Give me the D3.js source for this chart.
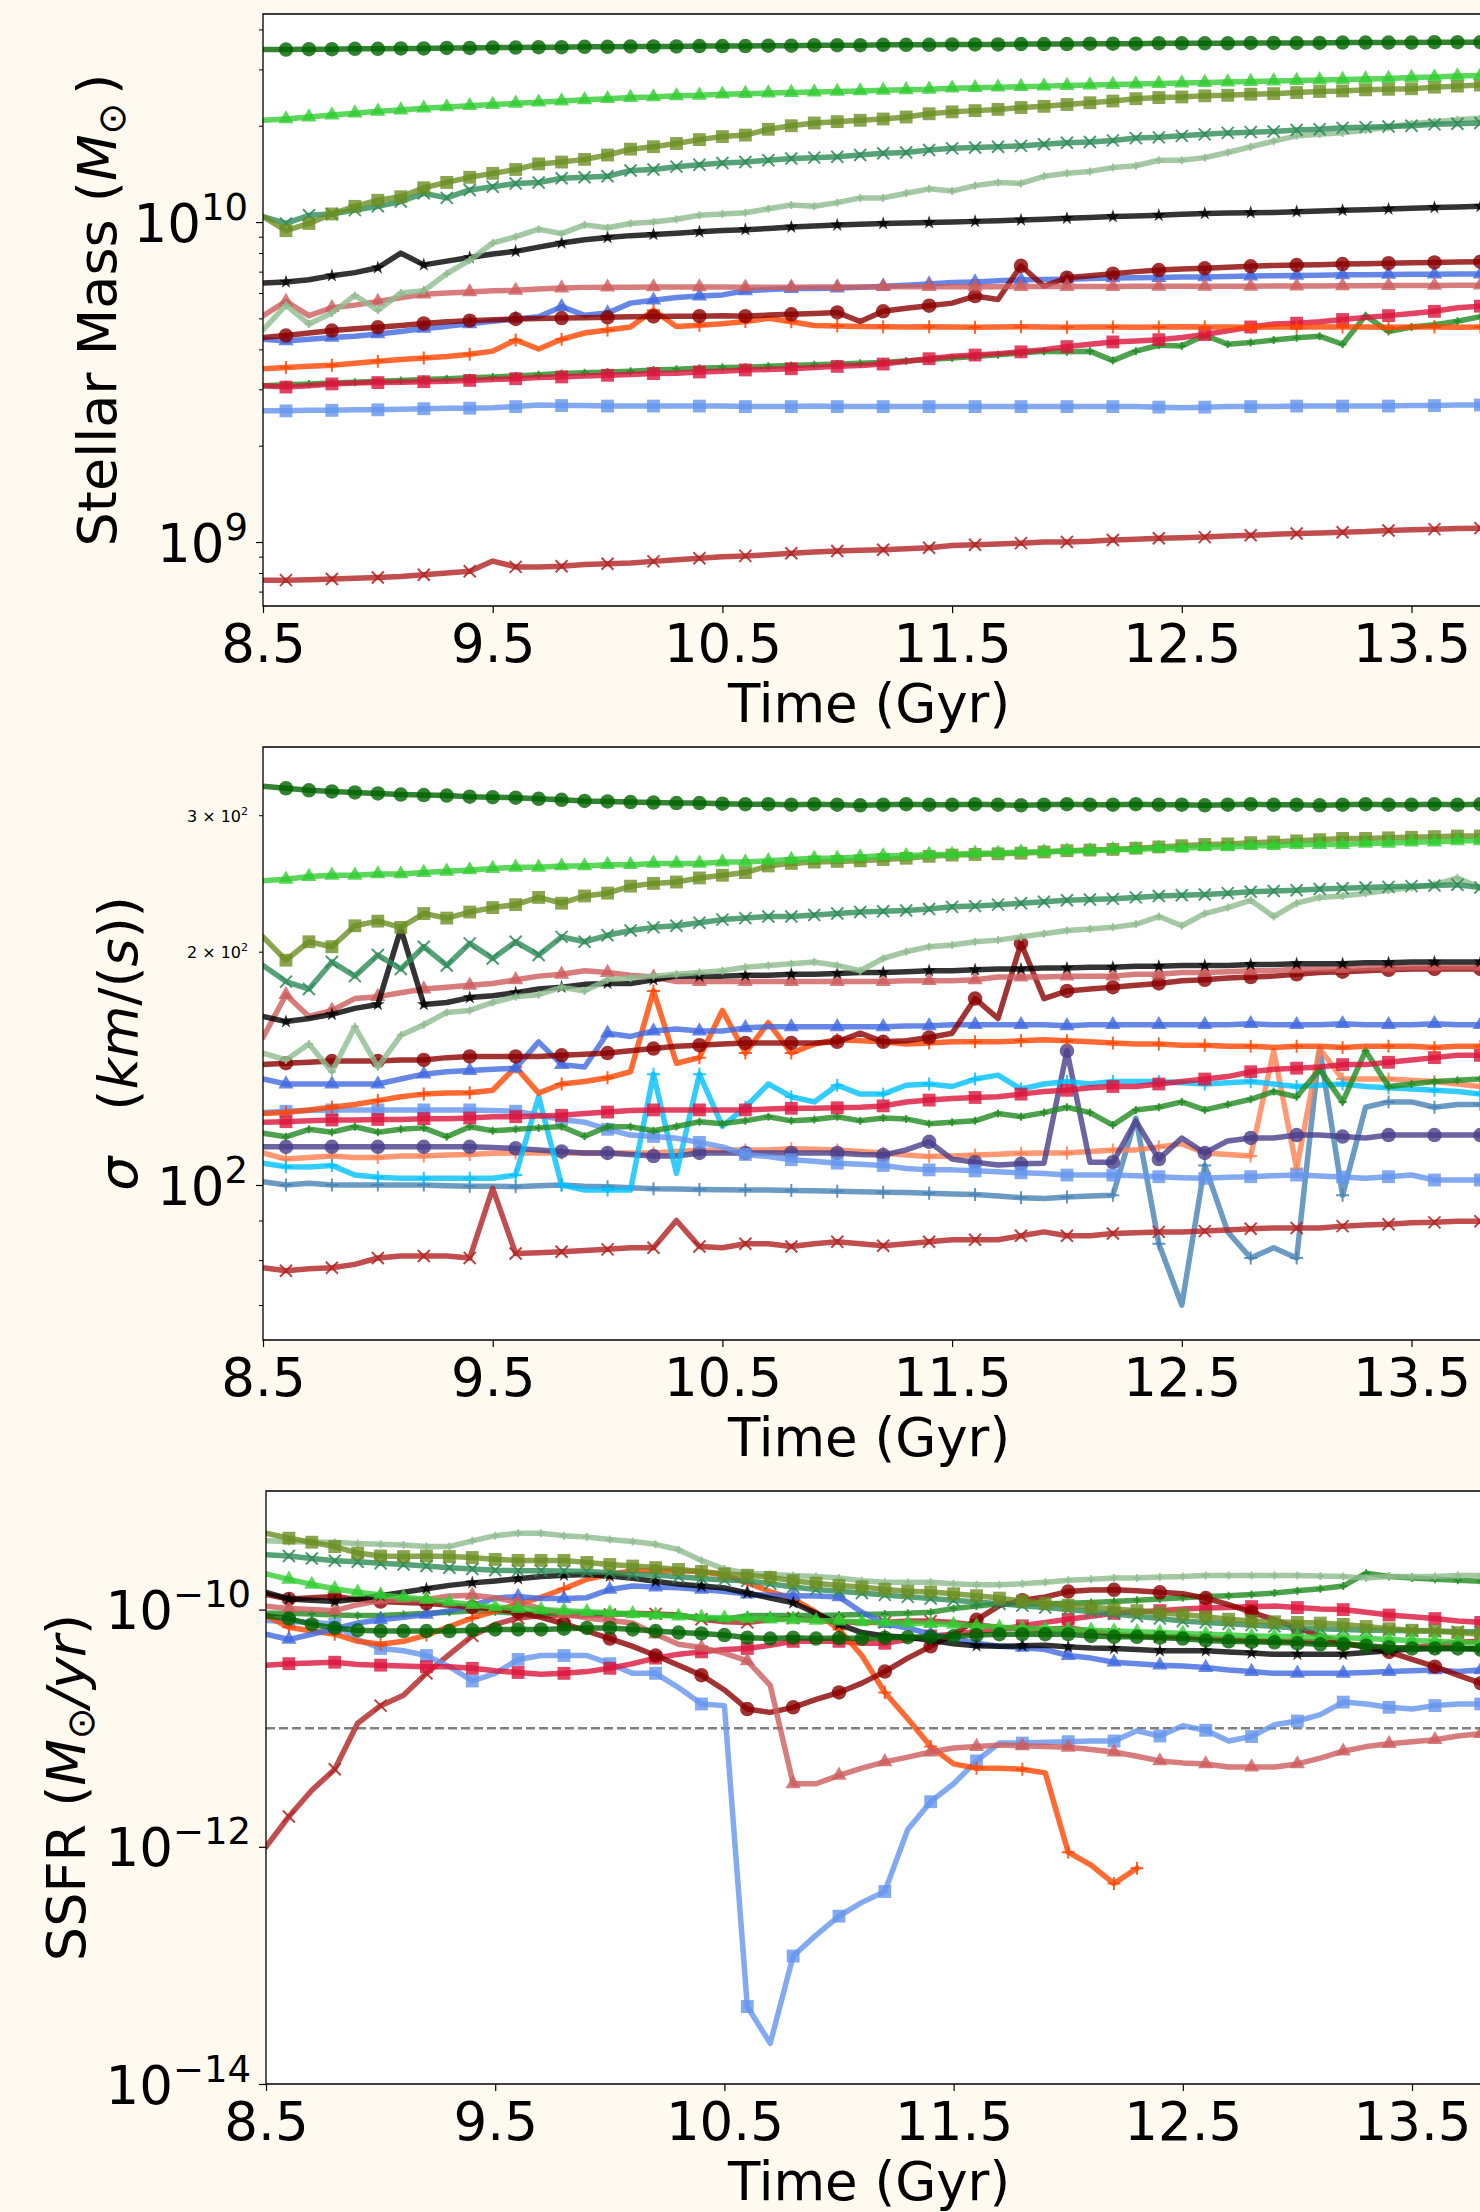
<!DOCTYPE html>
<html>
<head>
<meta charset="utf-8">
<script src="https://cdn.jsdelivr.net/npm/d3@7"></script>
<style>
  body { margin: 0; background: #fffaf0; }
</style>
</head>
<body>
<div id="chart"></div>
<script>
// Mass, velocity dispersion and sSFR histories of the sample galaxies
const times = [
  8.5, 8.6, 8.7, 8.8, 8.9, 9.0, 9.1, 9.2, 9.3, 9.4,
  9.5, 9.6, 9.7, 9.8, 9.9, 10.0, 10.1, 10.2, 10.3, 10.4,
  10.5, 10.6, 10.7, 10.8, 10.9, 11.0, 11.1, 11.2, 11.3, 11.4,
  11.5, 11.6, 11.7, 11.8, 11.9, 12.0, 12.1, 12.2, 12.3, 12.4,
  12.5, 12.6, 12.7, 12.8, 12.9, 13.0, 13.1, 13.2, 13.3, 13.4,
  13.5, 13.6, 13.7, 13.8
];
const xTicks = [8.5, 9.5, 10.5, 11.5, 12.5, 13.5];

// stellar mass, units of 1e9 Msun
const massDarkgreen = [
  34.6,34.6,34.7,34.7,34.8,34.8,34.9,34.9,35.0,35.0,
  35.1,35.1,35.2,35.2,35.3,35.3,35.4,35.4,35.4,35.5,
  35.5,35.5,35.6,35.6,35.7,35.7,35.7,35.8,35.8,35.8,
  35.9,35.9,35.9,36.0,36.0,36.0,36.1,36.1,36.1,36.2,
  36.2,36.2,36.2,36.3,36.3,36.3,36.3,36.4,36.4,36.4,
  36.4,36.5,36.5,36.5];
const massLime = [
  20.8,21.0,21.3,21.6,21.9,22.2,22.4,22.7,22.9,23.1,
  23.3,23.5,23.7,23.9,24.1,24.3,24.5,24.6,24.8,24.9,
  25.1,25.2,25.3,25.4,25.5,25.6,25.7,25.8,25.9,26.0,
  26.2,26.3,26.4,26.5,26.6,26.7,26.8,26.9,27.0,27.1,
  27.2,27.3,27.4,27.5,27.6,27.7,27.8,27.9,28.0,28.1,
  28.3,28.4,28.6,28.7];
const massOlive = [
  10.4,9.4,9.9,10.6,11.2,11.7,12.0,12.8,13.3,13.8,
  14.2,14.6,15.2,15.4,15.7,16.2,16.9,17.2,17.6,18.1,
  18.5,18.7,19.5,20.0,20.4,20.6,20.8,21.0,21.3,21.8,
  22.1,22.3,22.5,22.8,23.0,23.3,23.6,23.9,24.3,24.5,
  24.6,24.8,24.9,25.1,25.2,25.4,25.6,25.7,25.9,26.0,
  26.1,26.4,26.6,26.8];
const massSeagreen = [
  10.4,9.9,10.5,10.6,10.9,11.2,11.6,12.3,11.9,12.6,
  12.9,13.2,13.3,13.7,13.8,13.9,14.5,14.6,14.9,15.1,
  15.3,15.4,15.6,15.8,15.9,16.0,16.2,16.4,16.5,16.8,
  17.0,17.1,17.2,17.3,17.5,17.7,17.8,18.0,18.3,18.4,
  18.6,18.8,19.0,19.1,19.2,19.4,19.5,19.7,19.8,19.9,
  20.0,20.2,20.3,20.4];
const massPalegreen = [
  4.6,5.5,4.8,5.2,5.9,5.3,6.0,6.1,6.9,7.6,
  8.6,9.0,9.5,9.2,9.8,9.6,9.9,10.0,10.2,10.5,
  10.6,10.7,11.0,11.3,11.2,11.5,11.9,11.9,12.3,12.7,
  12.5,13.0,13.3,13.2,13.9,14.2,14.4,14.8,15.0,15.6,
  15.6,15.9,16.5,17.2,17.9,18.6,18.8,19.0,19.4,19.8,
  20.3,20.6,20.9,21.1];
const massBlack = [
  6.45,6.5,6.6,6.8,6.95,7.2,8.0,7.35,7.55,7.75,
  7.95,8.1,8.35,8.6,8.8,8.95,9.07,9.15,9.22,9.32,
  9.41,9.47,9.55,9.65,9.72,9.79,9.85,9.9,9.93,9.96,
  10.0,10.05,10.1,10.15,10.2,10.28,10.33,10.4,10.45,10.5,
  10.57,10.63,10.68,10.7,10.72,10.78,10.82,10.88,10.93,10.98,
  11.05,11.1,11.15,11.2];
const massIndianred = [
  5.1,5.65,5.1,5.4,5.5,5.65,5.8,5.95,6.0,6.05,
  6.1,6.12,6.18,6.22,6.25,6.26,6.26,6.27,6.27,6.27,
  6.27,6.26,6.26,6.26,6.27,6.27,6.27,6.28,6.28,6.28,
  6.28,6.28,6.28,6.29,6.29,6.29,6.29,6.29,6.3,6.3,
  6.3,6.3,6.3,6.3,6.31,6.31,6.31,6.32,6.32,6.33,
  6.33,6.34,6.35,6.35];
const massRoyalblue = [
  4.3,4.25,4.3,4.36,4.4,4.47,4.55,4.65,4.72,4.81,
  4.9,4.98,5.06,5.44,5.11,5.2,5.58,5.7,5.81,5.87,
  5.92,6.1,6.15,6.2,6.2,6.22,6.25,6.3,6.35,6.4,
  6.47,6.5,6.55,6.6,6.62,6.63,6.66,6.69,6.7,6.71,
  6.73,6.74,6.76,6.78,6.8,6.81,6.82,6.84,6.85,6.86,
  6.87,6.87,6.88,6.88];
const massDarkred = [
  4.36,4.42,4.5,4.58,4.64,4.69,4.75,4.82,4.88,4.92,
  4.95,4.98,5.0,5.01,5.02,5.04,5.06,5.07,5.08,5.08,
  5.1,5.08,5.12,5.15,5.18,5.22,4.89,5.26,5.38,5.48,
  5.58,5.87,5.73,7.3,6.3,6.7,6.8,6.9,7.0,7.08,
  7.13,7.17,7.22,7.27,7.32,7.34,7.36,7.39,7.41,7.44,
  7.46,7.48,7.5,7.52];
const massOrangered = [
  3.48,3.51,3.54,3.57,3.62,3.67,3.72,3.76,3.8,3.86,
  3.95,4.28,4.01,4.3,4.5,4.6,4.7,5.3,4.72,4.76,
  4.81,4.89,5.0,4.88,4.75,4.73,4.72,4.71,4.7,4.71,
  4.7,4.69,4.7,4.71,4.7,4.69,4.7,4.7,4.69,4.7,
  4.71,4.7,4.7,4.69,4.7,4.7,4.71,4.7,4.7,4.69,
  4.7,4.7,4.69,4.7];
const massCrimson = [
  3.08,3.05,3.08,3.12,3.14,3.15,3.16,3.17,3.18,3.2,
  3.22,3.24,3.27,3.28,3.3,3.32,3.34,3.36,3.37,3.4,
  3.42,3.45,3.46,3.48,3.51,3.54,3.56,3.6,3.67,3.74,
  3.81,3.84,3.88,3.93,3.99,4.08,4.15,4.22,4.25,4.29,
  4.36,4.45,4.57,4.7,4.8,4.83,4.88,4.96,5.03,5.1,
  5.18,5.26,5.4,5.46];
const massGreen = [
  3.08,3.1,3.12,3.14,3.16,3.18,3.2,3.22,3.24,3.26,
  3.28,3.3,3.33,3.36,3.38,3.4,3.42,3.45,3.47,3.49,
  3.51,3.52,3.54,3.56,3.58,3.6,3.62,3.64,3.68,3.72,
  3.76,3.8,3.85,3.9,3.95,3.93,3.95,3.69,3.95,4.12,
  4.1,4.43,4.15,4.2,4.28,4.35,4.4,4.15,5.1,4.55,
  4.7,4.78,4.9,5.06];
const massCornflower = [
  2.57,2.57,2.58,2.58,2.59,2.59,2.6,2.61,2.62,2.62,
  2.63,2.65,2.68,2.67,2.67,2.66,2.66,2.66,2.66,2.66,
  2.66,2.65,2.65,2.65,2.66,2.65,2.65,2.65,2.65,2.65,
  2.65,2.65,2.65,2.65,2.65,2.65,2.65,2.65,2.65,2.64,
  2.63,2.64,2.65,2.65,2.65,2.66,2.66,2.66,2.66,2.66,
  2.67,2.67,2.68,2.68];
const massBrown = [
  0.76,0.76,0.762,0.766,0.77,0.775,0.78,0.79,0.8,0.81,
  0.872,0.836,0.836,0.84,0.85,0.855,0.86,0.87,0.88,0.89,
  0.9,0.905,0.912,0.922,0.93,0.937,0.942,0.946,0.953,0.96,
  0.975,0.98,0.985,0.992,1.0,1.0,1.005,1.015,1.02,1.027,
  1.032,1.036,1.044,1.05,1.057,1.063,1.068,1.073,1.078,1.087,
  1.092,1.097,1.103,1.105];

// velocity dispersion, km/s
const sigmaDarkgreen = [
  327,325,323,322,321,320,319,318.5,318,317,
  316.5,316,315,314,313,312.5,312,311.5,311,311,
  310.5,310,310,309.5,310,309.5,309,309.5,310,309.5,
  309.5,310,309.5,309,309.5,310,309.5,309.5,310,309.5,
  309.5,309,309.5,310,309.5,309.5,309,309.5,310,309.5,
  309.5,310,309.5,310];
const sigmaLime = [
  247,248,250,251,251,252,252,253,254,255,
  256,257,257,258,258,259,259,260,260,260,
  261,261,262,263,264,264,265,266,266,267,
  267,268,268,269,269,270,270,271,271,272,
  272,273,273,274,274,275,275,275,276,276,
  277,277,278,278];
const sigmaOlive = [
  209,195,206,203,216,219,215,224,221,225,
  228,230,235,231,236,238,243,245,246,249,
  251,253,258,260,261,261.5,262,263,264,265.5,
  266.5,267,267.5,268,269,270,270.5,271,272,273,
  274,275,275.5,276.5,277,278,279,280,280,280.5,
  281,281.5,282,282];
const sigmaSeagreen = [
  192,183,179,194,186,198,190,203,192,205,
  196,206,198,209,206,210,213,215,216,218,
  220,221,222,222,223,224,225,225.5,226,227,
  228.5,229,230,231,232,233,233.5,234,235,236,
  236.5,237,238,239,239.5,240,241,241.5,242,242.5,
  243,243.5,244,242];
const sigmaPalegreen = [
  148,145,152,140,160,142,156,161,167,168,
  172,175,176,180,178,184,185,186,187,188,
  189,191,192,193,194,192,189,196,200,203,
  204,206,207,209,211,213,214,215,217,222,
  216,224,228,233,222,231,235,236,238,240,
  242,244,249,242];
const sigmaBlack = [
  165,162.5,164,166,169,171,214,171,172,174.5,
  175.5,177,179,180,181.5,182,182,184,186,186,
  186,186.5,186.5,187,187,187.5,188,188,188.5,189,
  189,189.5,190,190,190.5,190.5,191,191,191.5,191.5,
  192,192,192,192.5,192.5,193,193,193,193.5,193.5,
  194,194,194,194];
const sigmaIndianred = [
  155,176,165,168,174,175,177,179,180,181,
  182,184,186,187,189,188,186.5,185.5,183,183,
  183,183,183,183,183,183,183,183,183.5,183.5,
  183.5,184,185.5,185.5,185.5,186,186,186,187,187,
  188,188,188.5,189,189,190,190,190,190.5,190.5,
  191,191,191,191];
const sigmaRoyalblue = [
  137,135,135,135,135,135,137,139,140,140.5,
  141,141.5,153,143,142,157,155.5,158,159,158,
  158,159.5,160,160,160,160,160,160,160.4,160.5,
  161,161,161,161,161,160.5,161,161,161,161,
  161,161,161,161.5,161,161,161,161.5,161,161,
  161,161.5,161,161];
const sigmaDarkred = [
  143,143.6,144,144.5,144.5,144.5,145,145,146,146.5,
  146.5,146.5,146.5,147,147.5,148,149,150,151,151.5,
  152,152.5,152.5,152.5,152.5,153,157,153,153.5,155,
  157,174,164,205,174,178,179,180,181,182,
  183.5,184,185,185.5,186,187,188,188.5,189,189.5,
  190,190,190,190];
const sigmaOrangered = [
  123.7,124,125,126,127,128.5,130,131,131.4,131.5,
  132.5,142,131.4,135,136,137.5,140,178,143.6,146,
  168,148,162,148,152,154,153.5,153,152,152.5,
  153,153,153,153.5,154,153.5,153,152.5,152,152,
  151.5,151.5,151,151,150.5,151,151,150.5,151,151,
  151,150.5,151,151];
const sigmaCrimson = [
  120.5,120.7,121,121.3,121.3,121.5,121.5,121.8,121.8,122,
  122.5,122.5,122.8,123,123.7,124.2,124.8,125,125,125,
  125,125,125.3,125.6,125.6,125.8,126,126.5,128,128.7,
  129.3,129.7,130,131,132,132.5,133.5,134,134,135,
  136,137,138,140,141,141.5,142,143,143,144,
  145,146,147,147];
const sigmaGreen = [
  116.6,115.4,118,117,118.9,117,118,118.5,115.4,118.9,
  117.5,118,118.5,119,115.6,118.9,118.9,117.5,119,120.7,
  120,121,122.5,121,121.5,122.5,121,122,121.7,120,
  120.5,121,123.7,122.5,124,126,124,119.5,125,126,
  128,125,127,129,132,130,141,128,149,134,
  135,136,136.5,137];
const sigmaCornflower = [
  124,124.5,124.8,125,125,125,125,125,125,125,
  124.8,124.5,123,121.5,120.5,118,116,115.5,114.9,113.5,
  112,109.5,108.8,107.8,107.3,106.7,106.4,106,105,104.6,
  104.6,104.3,104,103.7,103.5,103,103,103,102.8,102.5,
  102.2,102,102.3,102.5,102.8,103,102.7,102.4,102,102.5,
  103,101.5,101.5,101.5];
const sigmaBrown = [
  78.2,77.5,78,78.2,79,80.5,81,81,81,80.5,
  99,81.6,81.8,82,82.3,82.6,83,83,90,83.3,
  83,84,84,83.3,84,84.5,84,83.5,84,84.5,
  85,85,85,86,87,86,86,86.6,86.8,87,
  87,87.2,87.5,87.8,88,88,88,88.5,88.8,89,
  89.4,89.5,89.8,89.8];
const sigmaDeepskyblue = [
  106.7,105.6,105.5,106,103,102.3,102,102,102,102,
  102,103,130,100,98.5,98.5,98.5,139,103.5,139,
  119,126,135,130,128,134.5,131,131,134.5,135,
  134,137,138.6,133,135,136,135,136,136,136,
  135.5,135,135.5,136,135,134,134.5,135,134,133.5,
  133,132.5,132,131];
const sigmaDarkslateblue = [
  112,112,112,112,112,112,112,112,112,112,
  111.8,111.5,111,110.5,110,110,109.5,109,109,110,
  110,110,110,110,110,110,109.5,109.3,111,113.7,
  108,107,106.1,106.5,106.7,149,107,107,121,108,
  115,110,114,115,115,116,116,115.5,115,116,
  116,116,116,116];
const sigmaCoral = [
  110,108,108.5,109,108.5,108.5,109,109,109.3,109.5,
  109.9,110,110,110,110,110,110,110,110.5,110.9,
  111,111,111,111.4,111.2,111,110.5,110,109.3,108.8,
  109,109.3,109.6,109.9,110,110,110.5,111,111,112,
  113,110,109.5,109,149,105,150,137,137,137,
  136.5,136,135,134];
const sigmaSteelblue = [
  101,100,100.5,100,100,100,100,100,99.8,99.6,
  99.6,99.5,99.8,100,99.6,99.5,99.2,98.9,98.8,98.7,
  98.6,98.5,98.5,98.4,98.3,98.2,98.0,97.9,97.8,97.6,
  97.4,97.2,96.8,96.3,96.1,96.5,96.8,97,122,84,
  70,106,87,80.5,83,80.5,150,97,126,128,
  128,126,127,127];

// specific star formation rate, units of 1e-11 / yr
const ssfrDarkgreen = [
  8.9,8.4,7.5,7.0,6.7,6.6,6.6,6.6,6.6,6.7,
  6.8,6.8,6.8,6.9,7.0,7.0,6.8,6.6,6.4,6.3,
  6.1,5.8,5.7,5.8,5.7,5.75,5.7,5.8,5.85,5.9,
  5.95,6.1,6.2,6.2,6.2,6.2,6.0,5.9,5.9,5.8,
  5.7,5.5,5.4,5.35,5.3,5.2,5.1,5.1,4.95,4.8,
  4.7,4.7,4.7,4.6];
const ssfrLime = [
  20,18,16.3,15,14,13.3,12.7,12.2,11.6,11,
  10.5,10.2,10,9.8,9.6,9.4,9.2,9.0,8.8,8.6,
  8.5,8.4,8.3,8.2,8.1,8.0,7.9,7.8,7.7,7.6,
  7.5,7.3,7.1,7.0,6.9,6.8,6.7,6.6,6.5,6.4,
  6.3,6.2,6.1,6.0,5.95,5.9,5.85,5.8,5.7,5.6,
  5.5,5.4,5.3,5.2];
const ssfrOlive = [
  44,40,37,34,30,28.3,28,28.3,28,27.5,
  26.5,26,26,26,25,24,23.3,22.6,21.8,21,
  20,19.5,18.7,17.5,16.7,16,15.5,14.8,14.3,14.1,
  13.6,13.1,12.5,11.8,11.3,10.9,10.5,10.1,9.8,9.4,
  9.1,8.7,8.3,8.0,7.9,7.8,7.7,7.5,7.2,6.9,
  6.7,6.6,6.4,6.2];
const ssfrSeagreen = [
  29,28.3,27,25.8,25.3,24.6,24,23.3,22.5,22,
  21.5,21.3,21.3,21.2,21,20.5,19.8,19.6,18.9,18.3,
  17.8,17.5,16.5,15.5,14.8,14.3,13.8,13.3,12.8,12.4,
  12,11.6,11.2,10.8,10.4,10,9.6,9.2,8.8,8.4,
  8.0,7.8,7.6,7.4,7.2,7.0,6.9,6.8,6.7,6.7,
  6.6,6.6,6.5,6.5];
const ssfrPalegreen = [
  38,37.5,37,37,36,35.5,35,34,34,38,
  42,44,44,42,41,39,37.5,35.5,32,26,
  22,20.3,19.8,19.4,19,18.5,17.5,17,17,17,
  16.5,16.2,16.2,16.5,17,17.7,18,18.5,18.5,18.8,
  19,19.4,19.4,19.4,19.4,19.4,19.2,19,18.5,19,
  19,19,19.4,19.4];
const ssfrBlack = [
  14,12.3,12,11.7,12.3,13.1,14,15,16,16.8,
  17.4,18.2,19,19.5,19.8,19.2,18.4,17.3,16.4,15.8,
  15.2,13.8,12.5,11.4,9.3,7.5,6.4,6.0,5.85,5.5,
  5.15,4.95,4.9,4.95,5.0,4.85,4.75,4.7,4.6,4.5,
  4.5,4.5,4.4,4.3,4.2,4.2,4.2,4.2,4.35,4.5,
  4.65,4.7,4.7,4.7];
const ssfrIndianred = [
  10.7,10.2,10,9.8,11,12,12,12.2,13,13.2,
  12.6,11.5,10.2,9.2,8.5,8.1,7.7,6.2,5.1,4.8,
  4.3,3.7,2.3,0.34,0.34,0.4,0.46,0.52,0.57,0.63,
  0.68,0.7,0.72,0.71,0.7,0.69,0.66,0.63,0.58,0.53,
  0.51,0.5,0.47,0.47,0.47,0.5,0.56,0.64,0.7,0.74,
  0.77,0.8,0.86,0.9];
const ssfrRoyalblue = [
  6.2,5.6,6.2,6.9,7.7,8.2,8.6,9.1,9.8,10.8,
  12.5,12.9,12.4,12.4,12.6,14.8,15.8,15.5,15.3,14.8,
  14.2,13.5,13.2,13.1,13,12.8,9.5,7.6,7.0,6.2,
  5.7,5.2,4.9,4.8,4.6,4.1,3.9,3.6,3.5,3.4,
  3.35,3.25,3.1,3.0,2.9,2.9,2.9,2.9,2.95,3.0,
  3.05,3.1,3.0,3.1];
const ssfrDarkred = [
  13.4,12.3,12.6,12.9,12.2,11.7,11.5,11.3,10.9,10.5,
  10.1,9.5,8.6,7.6,6.6,5.7,4.9,4.1,3.4,2.8,
  2.1,1.45,1.36,1.5,1.75,2.0,2.4,3.0,3.9,4.9,
  6.2,8.2,10.8,12,12.8,14.2,14.6,14.7,14.4,14,
  13.6,12.5,11,9.5,8.2,7.0,6.0,5.2,4.8,4.4,
  3.8,3.3,2.8,2.4];
const ssfrOrangered = [
  8.9,7.1,6.6,6.2,5.4,5.1,5.4,6.1,7.2,8.5,
  9.7,11.2,12.7,15,18,19.8,21.3,21.5,21.3,20.8,
  19.6,16.8,14.2,12.3,9.5,6.8,4.1,2.0,1.2,0.7,
  0.5,0.46,0.46,0.45,0.42,0.09,0.07,0.049,0.066,null,
  null,null,null,null,null,null,null,null,null,null,
  null,null,null,null];
const ssfrCrimson = [
  3.4,3.5,3.55,3.6,3.45,3.4,3.35,3.3,3.3,3.2,
  3.05,2.95,2.85,2.9,3.0,3.2,3.5,3.9,4.2,4.4,
  4.6,4.7,5.0,5.4,5.4,5.4,5.2,5.2,5.6,6.0,
  6.2,6.5,6.8,7.3,7.8,8.3,8.8,9.3,9.6,9.8,
  10.1,10.3,10.4,10.6,10.7,10.4,10.1,10,9.5,9.0,
  8.7,8.4,8.0,7.8];
const ssfrGreen = [
  9.3,9.3,9.2,9.0,8.9,8.9,9.1,9.3,9.5,9.8,
  9.6,9.3,9.3,9.3,9.3,9.3,9.2,9.0,8.9,8.5,
  8.3,8.9,8.9,8.9,8.9,9.0,9.1,9.2,9.3,9.5,
  10.2,10.7,11.2,11.2,11.2,11.3,11.5,11.7,12,12.3,
  12.6,12.9,13.1,13.4,13.8,14.4,15,15.8,20.3,19,
  18.5,18,17.7,17.3];
const ssfrCornflower = [
  8.1,7.9,7.85,7.5,5.6,4.7,4.5,4.1,3.3,2.5,
  2.9,3.8,4.1,4.1,4.1,3.5,2.9,2.9,2.2,1.6,
  1.55,0.0045,0.0022,0.012,0.018,0.026,0.034,0.042,0.14,0.24,
  0.34,0.53,0.75,0.75,0.76,0.77,0.78,0.78,0.95,0.86,
  1.05,0.96,0.78,0.85,1.07,1.15,1.3,1.66,1.6,1.5,
  1.45,1.55,1.6,1.6];
const ssfrBrown = [
  0.1,0.18,0.3,0.45,1.1,1.55,1.9,2.9,4.2,6.0,
  7.5,8.5,8.9,8.9,8.9,9.1,9.3,9.2,9.0,8.3,
  7.9,7.8,8.2,8.5,8.1,7.9,7.8,7.8,8.0,8.0,
  7.8,7.4,7.1,6.9,6.8,7.0,6.6,6.2,6.0,5.9,
  5.9,5.8,5.6,5.5,5.4,5.4,5.3,5.2,4.9,4.7,
  4.8,5.0,5.3,5.4];

// y tick values and labels
const massMajor = [1, 10], massMajorExp = ["9", "10"];
const massMinor = [0.7, 0.8, 0.9, 2, 3, 4, 5, 6, 7, 8, 9, 20, 30, 40];
const sigmaMajor = [100], sigmaMajorExp = ["2"];
const sigmaMinor = [70, 80, 90, 200, 300];
const sigmaMinorLabels = { 200: "2", 300: "3" };
const ssfrMajor = [0.001, 0.1, 10], ssfrMajorExp = ["\u221214", "\u221212", "\u221210"];
const quenchLine = 1; // 1e-11 / yr

const galaxies = [
  { color: "#4682b4", marker: "plus",      every: 2, mass: null,           sigma: sigmaSteelblue,     ssfr: null },
  { color: "#ff7f50", marker: "plus",      every: 2, mass: null,           sigma: sigmaCoral,         ssfr: null },
  { color: "#483d8b", marker: "circle",    every: 2, mass: null,           sigma: sigmaDarkslateblue, ssfr: null },
  { color: "#00bfff", marker: "plus",      every: 2, mass: null,           sigma: sigmaDeepskyblue,   ssfr: null },
  { color: "#b22222", marker: "x",         every: 2, mass: massBrown,      sigma: sigmaBrown,         ssfr: ssfrBrown },
  { color: "#6495ed", marker: "square",    every: 2, mass: massCornflower, sigma: sigmaCornflower,    ssfr: ssfrCornflower },
  { color: "#228b22", marker: "smallplus", every: 1, mass: massGreen,      sigma: sigmaGreen,         ssfr: ssfrGreen },
  { color: "#dc143c", marker: "square",    every: 2, mass: massCrimson,    sigma: sigmaCrimson,       ssfr: ssfrCrimson },
  { color: "#ff4500", marker: "plus",      every: 2, mass: massOrangered,  sigma: sigmaOrangered,     ssfr: ssfrOrangered },
  { color: "#4169e1", marker: "triangle",  every: 2, mass: massRoyalblue,  sigma: sigmaRoyalblue,     ssfr: ssfrRoyalblue },
  { color: "#8b0000", marker: "circle",    every: 2, mass: massDarkred,    sigma: sigmaDarkred,       ssfr: ssfrDarkred },
  { color: "#cd5c5c", marker: "triangle",  every: 2, mass: massIndianred,  sigma: sigmaIndianred,     ssfr: ssfrIndianred },
  { color: "#000000", marker: "star",      every: 2, mass: massBlack,      sigma: sigmaBlack,         ssfr: ssfrBlack },
  { color: "#8fbc8f", marker: "smallplus", every: 1, mass: massPalegreen,  sigma: sigmaPalegreen,     ssfr: ssfrPalegreen },
  { color: "#2e8b57", marker: "x",         every: 1, mass: massSeagreen,   sigma: sigmaSeagreen,      ssfr: ssfrSeagreen },
  { color: "#6b8e23", marker: "square",    every: 1, mass: massOlive,      sigma: sigmaOlive,         ssfr: ssfrOlive },
  { color: "#32cd32", marker: "triangle",  every: 1, mass: massLime,       sigma: sigmaLime,          ssfr: ssfrLime },
  { color: "#006400", marker: "circle",    every: 1, mass: massDarkgreen,  sigma: sigmaDarkgreen,     ssfr: ssfrDarkgreen }
];

const W = 1480, H = 2212;
const font = "'DejaVu Sans', sans-serif";

const svg = d3.select("#chart").append("svg")
  .attr("width", W)
  .attr("height", H)
  .style("font-family", font);

svg.append("rect").attr("width", W).attr("height", H).attr("fill", "#fffaf0");

function markerPath(type) {
  if (type === "circle") return d3.symbol(d3.symbolCircle, 165)();
  if (type === "square") return d3.symbol(d3.symbolSquare, 165)();
  if (type === "triangle") return d3.symbol(d3.symbolTriangle, 100)();
  if (type === "star") return d3.symbol(d3.symbolStar, 60)();
  if (type === "x") return "M-6,-6L6,6M-6,6L6,-6";
  if (type === "plus") return "M-6.5,0H6.5M0,-6.5V6.5";
  return "M-4,0H4M0,-4V4";
}

function drawPanel(p) {
  const x = d3.scaleLinear().domain([8.5, 13.8]).range([p.left, p.left + 5.3 * p.pxPerGyr]);
  const y = d3.scaleLog().domain(p.domain).range([p.bottom, p.top]);
  const right = W + 5;
  const g = svg.append("g");

  g.append("rect")
    .attr("x", p.left).attr("y", p.top)
    .attr("width", right - p.left).attr("height", p.bottom - p.top)
    .attr("fill", "#fff");

  g.append("clipPath").attr("id", "clip-" + p.key)
    .append("rect")
    .attr("x", p.left).attr("y", p.top)
    .attr("width", right - p.left).attr("height", p.bottom - p.top);

  const plot = g.append("g").attr("clip-path", `url(#clip-${p.key})`);

  if (p.hline) {
    plot.append("line")
      .attr("x1", p.left).attr("x2", right)
      .attr("y1", y(p.hline)).attr("y2", y(p.hline))
      .attr("stroke", "#808080")
      .attr("stroke-width", 2.4)
      .attr("stroke-dasharray", "9,4");
  }

  const line = d3.line()
    .defined(d => d.v != null)
    .x(d => x(d.t))
    .y(d => y(d.v));

  galaxies.filter(s => s[p.key]).forEach(s => {
    const vals = s[p.key];
    const pts = times.map((t, i) => ({ t: t, v: vals[i], i: i }));
    const sg = plot.append("g");

    sg.append("path")
      .datum(pts)
      .attr("d", line)
      .attr("fill", "none")
      .attr("stroke", s.color)
      .attr("stroke-opacity", 0.8)
      .attr("stroke-width", 5.5)
      .attr("stroke-linejoin", "round")
      .attr("stroke-linecap", "round");

    const valid = pts.filter(d => d.v != null);
    const last = valid[valid.length - 1].i;
    const marks = valid.filter(d => (d.i > 0 && d.i % s.every === 1 % s.every) || d.i === last);
    const stroked = s.marker === "x" || s.marker.endsWith("plus");

    sg.selectAll(null)
      .data(marks)
      .join("path")
      .attr("transform", d => `translate(${x(d.t)},${y(d.v)})`)
      .attr("d", markerPath(s.marker))
      .attr("fill", stroked ? "none" : s.color)
      .attr("fill-opacity", 0.8)
      .attr("stroke", stroked ? s.color : "none")
      .attr("stroke-opacity", 0.85)
      .attr("stroke-width", 2);
  });

  // frame (the right side runs past the picture edge)
  g.append("path")
    .attr("d", `M${right},${p.top}H${p.left}V${p.bottom}H${right}`)
    .attr("fill", "none")
    .attr("stroke", "#000")
    .attr("stroke-width", 1.3);

  const xa = g.append("g")
    .attr("transform", `translate(0,${p.bottom})`)
    .call(d3.axisBottom(x).tickValues(xTicks).tickSize(7).tickFormat(d3.format(".1f")));
  xa.select(".domain").remove();
  xa.selectAll(".tick line").attr("stroke", "#000").attr("stroke-width", 1.2);
  xa.selectAll(".tick text")
    .attr("y", 56).attr("dy", null)
    .attr("fill", "#000")
    .style("font-size", "53px")
    .style("font-family", font);

  g.append("text")
    .attr("x", 869)
    .attr("y", p.bottom + 116)
    .attr("text-anchor", "middle")
    .style("font-size", "53px")
    .text("Time (Gyr)");

  const ya = g.append("g")
    .attr("transform", `translate(${p.left},0)`)
    .call(d3.axisLeft(y).tickValues(p.major).tickSize(7).tickFormat(""));
  ya.select(".domain").remove();
  ya.selectAll(".tick line").attr("stroke", "#000").attr("stroke-width", 1.2);
  ya.selectAll(".tick text").remove();
  ya.selectAll(".tick").each(function (d) {
    const t = d3.select(this).append("text")
      .attr("x", -15).attr("y", 19)
      .attr("text-anchor", "end")
      .attr("fill", "#000")
      .style("font-size", "53px")
      .style("font-family", font);
    t.append("tspan").text("10");
    t.append("tspan").attr("dy", -22).style("font-size", "37px").text(p.majorExp[p.major.indexOf(d)]);
  });

  if (p.minor) {
    const ym = g.append("g")
      .attr("transform", `translate(${p.left},0)`)
      .call(d3.axisLeft(y).tickValues(p.minor).tickSize(4).tickFormat(""));
    ym.select(".domain").remove();
    ym.selectAll(".tick line").attr("stroke", "#000").attr("stroke-width", 1);
    ym.selectAll(".tick text").remove();
    if (p.minorLabels) {
      ym.selectAll(".tick").filter(d => p.minorLabels[d]).each(function (d) {
        const t = d3.select(this).append("text")
          .attr("x", -15).attr("y", 6)
          .attr("text-anchor", "end")
          .attr("fill", "#000")
          .style("font-size", "16px")
          .style("font-family", font);
        t.append("tspan").text(p.minorLabels[d] + " \u00d7 10");
        t.append("tspan").attr("dy", -7).style("font-size", "11px").text(p.labelExp);
      });
    }
  }

  const yl = svg.append("text")
    .attr("transform", `translate(${p.ylabelX},${(p.top + p.bottom) / 2}) rotate(-90)`)
    .attr("text-anchor", "middle")
    .style("font-size", "54px");
  p.ylabel.forEach(part => {
    const s = yl.append("tspan").text(part.text);
    if (part.italic) s.style("font-style", "italic");
    if (part.size) s.style("font-size", part.size + "px");
    if (part.dy) s.attr("dy", part.dy);
    if (part.dx) s.attr("dx", part.dx);
  });
}

drawPanel({
  key: "mass", left: 263, top: 14, bottom: 606, pxPerGyr: 229.7,
  domain: [0.631, 44.7],
  major: massMajor, majorExp: massMajorExp, minor: massMinor,
  ylabelX: 116,
  ylabel: [
    { text: "Stellar Mass (" },
    { text: "M", italic: true },
    { text: "\u2299", size: 38, dy: 9 },
    { text: ")", dy: -9, dx: 8 }
  ]
});

drawPanel({
  key: "sigma", left: 263, top: 747, bottom: 1340, pxPerGyr: 229.7,
  domain: [63.1, 367.4],
  major: sigmaMajor, majorExp: sigmaMajorExp, minor: sigmaMinor,
  minorLabels: sigmaMinorLabels, labelExp: "2",
  ylabelX: 137,
  ylabel: [
    { text: "\u03c3", italic: true },
    { text: "(", dx: 46 },
    { text: "km", italic: true },
    { text: "/(" },
    { text: "s", italic: true },
    { text: "))" }
  ]
});

drawPanel({
  key: "ssfr", left: 266, top: 1491, bottom: 2084, pxPerGyr: 229.2,
  domain: [0.001, 100],
  major: ssfrMajor, majorExp: ssfrMajorExp, minor: null,
  hline: quenchLine,
  ylabelX: 85,
  ylabel: [
    { text: "SSFR (" },
    { text: "M", italic: true },
    { text: "\u2299", size: 38, dy: 9 },
    { text: "/yr", italic: true, dy: -9 },
    { text: ")" }
  ]
});
</script>
</body>
</html>
